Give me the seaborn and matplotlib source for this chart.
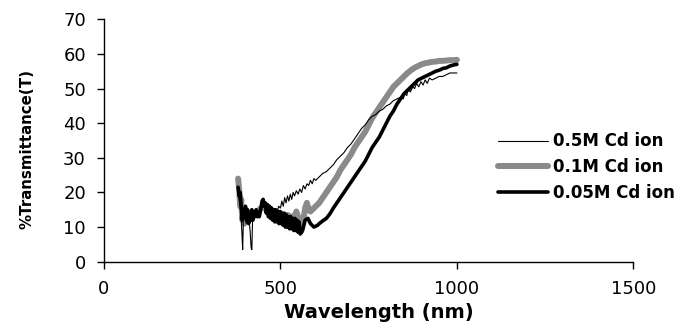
import matplotlib
matplotlib.use("Agg")
import matplotlib.pyplot as plt
import seaborn as sns
import pandas as pd

# Optical transmittance spectra of films grown with different Cd ion concentrations
wl_05 = [380, 384, 388, 391, 393, 395, 399, 403, 407, 411, 414, 417, 419, 421, 425,
         430, 436, 442, 448, 452, 458, 465, 472, 480, 486, 490, 495, 500, 504, 508,
         512, 516, 520, 524, 528, 532, 536, 540, 545, 550, 555, 560, 565, 570, 575,
         580, 585, 590, 595, 600, 610, 620, 630, 640, 650, 660, 670, 680, 690, 700,
         710, 720, 730, 740, 750, 760, 770, 780, 790, 800, 810, 820, 830, 840, 848,
         852, 858, 862, 868, 875, 880, 886, 892, 898, 904, 910, 916, 922, 930, 940,
         950, 960, 970, 980, 990, 1000]
t_05 = [20, 17, 14, 8, 3.5, 12, 13, 11, 14, 12, 9, 4, 3.5, 12, 14,
        13, 14, 15.5, 17, 17.5, 16, 15, 14.5, 14, 15, 14, 16, 15.5, 17.5, 16,
        18.5, 17, 19, 17.5, 19.5, 18, 20, 19, 20.5, 19.5, 21, 20, 22, 21, 22.5,
        22, 23.5, 22.5, 24, 23.5, 24.5, 25.5, 26, 27, 28, 29.5, 30.5, 31.5, 33, 34,
        35.5, 37, 38.5, 39.5, 41, 42, 42.5, 43.5, 44, 45, 45.5, 46.5, 47, 47.5, 47,
        48.5, 48, 50, 49, 50.5, 50, 51.5, 50.5, 52, 51, 52.5, 51.5, 53, 52.5, 53,
        53.5, 53.5, 54, 54.5, 54.5, 54.5]

wl_01 = [380, 383, 386, 389, 392, 395, 398, 401, 404, 407, 410, 415, 420, 425, 430,
         440, 450, 460, 470, 480, 490, 500, 510, 520, 530, 540, 545, 550, 555, 560,
         565, 570, 575, 580, 585, 590, 600, 610, 620, 630, 640, 650, 660, 670, 680,
         690, 700, 710, 720, 730, 740, 750, 760, 770, 780, 790, 800, 810, 820, 830,
         840, 850, 860, 870, 880, 890, 900, 910, 920, 930, 940, 950, 960, 970, 980,
         990, 1000]
t_01 = [24, 21, 16, 18, 12, 14, 11, 15, 12, 14, 13, 14, 13, 14, 14,
        15, 16, 15, 15, 14.5, 14, 14, 13.5, 13.5, 13, 13, 14.5, 13, 11, 9,
        12, 15.5, 17, 15, 14.5, 15, 16, 17, 18.5, 20, 21.5, 23, 24.5, 26.5, 28,
        29.5, 31, 33, 34.5, 36, 37.5, 39.5, 41.5, 43, 44.5, 46, 47.5, 49, 50.5, 51.5,
        52.5, 53.5, 54.5, 55.3, 56, 56.5, 57, 57.3, 57.5, 57.7, 57.8, 58, 58, 58.1, 58.2,
        58.2, 58.3]

wl_005 = [380, 383, 386, 389, 392, 395, 398, 401, 404, 407, 410, 413, 416, 419, 422,
          425, 428, 431, 434, 437, 440, 444, 448, 451, 454, 457, 460, 463, 466, 469,
          472, 475, 478, 481, 484, 487, 490, 493, 496, 499, 502, 505, 508, 511, 514,
          517, 520, 523, 526, 529, 532, 535, 538, 541, 544, 547, 550, 553, 556, 560,
          565, 570, 578, 585, 595, 605, 610, 620, 630, 640, 650, 660, 670, 680, 690,
          700, 710, 720, 730, 740, 750, 760, 770, 780, 790, 800, 810, 820, 830, 840,
          850, 860, 870, 880, 890, 900, 910, 920, 930, 940, 950, 960, 970, 980, 990,
          1000]
t_005 = [21.5, 19, 20, 16, 12, 15, 13, 16, 12, 15, 11, 14, 12, 15, 12,
         14, 13, 15, 13, 14, 13, 15, 17.5, 18, 16, 17, 14, 16.5, 13, 16,
         12.5, 15.5, 12, 15, 11.5, 15, 11.5, 14.5, 11, 14.5, 11, 14, 10.5, 14, 10,
         13.5, 10, 13, 9.5, 13, 9.5, 12.5, 9, 12.5, 9, 12, 8.5, 11.5, 8, 8.5,
         10, 12, 12.5, 11, 10, 10.5, 11, 11.8, 12.5, 13.8, 15.5, 17, 18.5, 20, 21.5,
         23, 24.5, 26, 27.5, 29, 31, 33, 34.5, 36, 38, 40, 42, 43.5, 45.5, 47,
         48.5, 49.5, 50.5, 51.5, 52.5, 53, 53.5, 54, 54.5, 55, 55.3, 55.8, 56, 56.5, 56.8,
         57]

labels = ["0.5M Cd ion", "0.1M Cd ion", "0.05M Cd ion"]
x_ticks = [0, 500, 1000, 1500]
y_ticks = [0, 10, 20, 30, 40, 50, 60, 70]

sns.set_style("ticks")
plt.rcParams["font.family"] = ["DejaVu Sans"]
plt.rcParams["text.color"] = "black"
plt.rcParams["axes.labelcolor"] = "black"

fig = plt.figure(figsize=(6.93, 3.34), dpi=100)
ax = fig.add_axes([0.150, 0.2165, 0.764, 0.7257])

df01 = pd.DataFrame({"wl": wl_01, "T": t_01})
df005 = pd.DataFrame({"wl": wl_005, "T": t_005})
df05 = pd.DataFrame({"wl": wl_05, "T": t_05})

sns.lineplot(data=df01, x="wl", y="T", ax=ax, color="#8a8a8a", linewidth=4.3,
             estimator=None, sort=False, label=labels[1])
sns.lineplot(data=df005, x="wl", y="T", ax=ax, color="black", linewidth=2.6,
             estimator=None, sort=False, label=labels[2])
sns.lineplot(data=df05, x="wl", y="T", ax=ax, color="black", linewidth=0.8,
             estimator=None, sort=False, label=labels[0])

ax.set_xlim(0, 1500)
ax.set_ylim(0, 70)
ax.set_xticks(x_ticks)
ax.set_yticks(y_ticks)
ax.tick_params(axis="both", direction="out", length=5, width=1.0, colors="black",
               labelcolor="black", labelsize=13, pad=8)
for side in ("top", "right"):
    ax.spines[side].set_visible(False)
for side in ("left", "bottom"):
    ax.spines[side].set_linewidth(1.0)
    ax.spines[side].set_color("black")

ax.set_xlabel("Wavelength (nm)", fontsize=14, fontweight="bold", color="black")
ax.set_ylabel("%Transmittance(T)", fontsize=10.8, fontweight="bold", color="black")
ax.xaxis.set_label_coords(0.52, -0.17)
ax.yaxis.set_label_coords(-0.132, 0.466)

handles, labs = ax.get_legend_handles_labels()
order = [labs.index(l) for l in labels]
ax.get_legend().remove()
fig.legend([handles[i] for i in order], [labs[i] for i in order],
           loc="center left", bbox_to_anchor=(498 / 693, 0.5), frameon=False,
           borderpad=0, borderaxespad=0, handlelength=3.0, handletextpad=0.3,
           labelspacing=0.45, prop={"weight": "bold", "size": 12})

fig.savefig("out.png", dpi=100)
